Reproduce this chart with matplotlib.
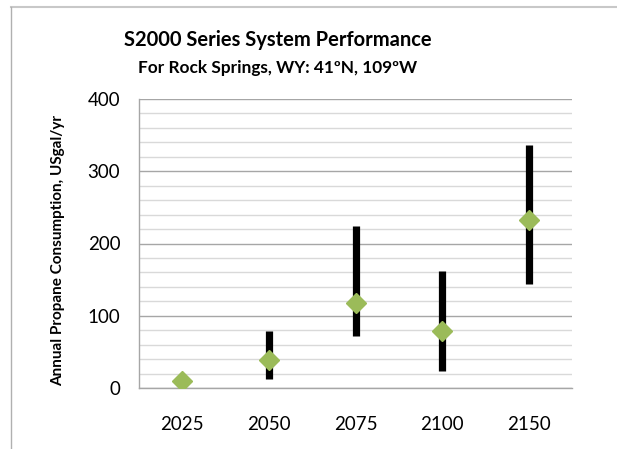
import matplotlib
matplotlib.use("Agg")
import matplotlib.pyplot as plt
from matplotlib.lines import Line2D
from matplotlib.ticker import MultipleLocator

plt.rcParams["font.family"] = ["Lato", "DejaVu Sans"]

years = ["2025", "2050", "2075", "2100", "2150"]
consumption = [9, 39, 117, 79, 232]
range_low = [9, 12, 72, 24, 144]
range_high = [9, 79, 224, 162, 336]

fig = plt.figure(figsize=(6.17, 4.49), dpi=100)
ax = fig.add_axes([139 / 617, 1 - 388 / 449, 433 / 617, 289 / 449])

x = list(range(len(years)))
ax.vlines(x, range_low, range_high, color="black", linewidth=5.2, zorder=3)
ax.plot(x, consumption, linestyle="none", marker="D", markersize=10.5,
        color="#9BBB59", markeredgecolor="#9BBB59", zorder=4)

ax.set_xlim(-0.5, len(years) - 0.5)
ax.set_ylim(0, 400)
ax.yaxis.set_major_locator(MultipleLocator(100))
ax.yaxis.set_minor_locator(MultipleLocator(20))
ax.grid(which="major", axis="y", color="#A6A6A6", linewidth=1.0, zorder=0)
ax.grid(which="minor", axis="y", color="#D9D9D9", linewidth=1.0, zorder=0)
ax.set_axisbelow(True)

ax.set_xticks(x)
ax.set_xticklabels(years)
ax.tick_params(axis="both", which="both", length=0, labelsize=13.5)
ax.tick_params(axis="x", pad=20)
ax.tick_params(axis="y", pad=13.5)

for side in ("top", "right"):
    ax.spines[side].set_visible(False)
for side in ("left", "bottom"):
    ax.spines[side].set_color("#A6A6A6")
    ax.spines[side].set_linewidth(1.0)

fig.text(278 / 617, 1 - 40 / 449, "S2000 Series System Performance",
         ha="center", va="center", fontsize=14.5, fontweight="bold")
fig.text(278 / 617, 1 - 68 / 449, "For Rock Springs, WY: 41ºN, 109ºW",
         ha="center", va="center", fontsize=12.4, fontweight="bold")
fig.text(58 / 617, 1 - 250 / 449, "Annual Propane Consumption, USgal/yr",
         ha="center", va="center", rotation=90, fontsize=11, fontweight="bold")

# outer chart frame (only top and left edges visible)
fig.add_artist(Line2D([11 / 617, 1], [1 - 7 / 449, 1 - 7 / 449],
                      transform=fig.transFigure, color="#C8C8C8", linewidth=1.5))
fig.add_artist(Line2D([11 / 617, 11 / 617], [0, 1 - 7 / 449],
                      transform=fig.transFigure, color="#B0B0B0", linewidth=1.0))

fig.savefig("out.png", dpi=100)
